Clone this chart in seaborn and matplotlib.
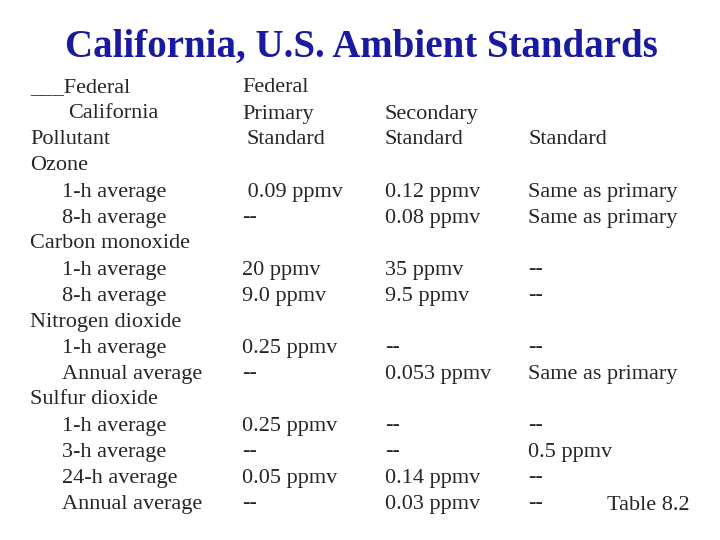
import matplotlib
matplotlib.use("Agg")
import matplotlib.pyplot as plt
import seaborn as sns

sns.set_style("white")
plt.rcParams['font.family'] = 'serif'
plt.rcParams['font.serif'] = ['Liberation Serif', 'Times New Roman', 'DejaVu Serif']

title = "California, U.S. Ambient Standards"
pollutants = ["Ozone", "Carbon monoxide", "Nitrogen dioxide", "Sulfur dioxide"]
averages = [["1-h average", "8-h average"],
            ["1-h average", "8-h average"],
            ["1-h average", "Annual average"],
            ["1-h average", "3-h average", "24-h average", "Annual average"]]
federal_primary = [[" 0.09 ppmv", "--"],
                   ["20 ppmv", "9.0 ppmv"],
                   ["0.25 ppmv", "--"],
                   ["0.25 ppmv", "--", "0.05 ppmv", "--"]]
federal_secondary = [["0.12 ppmv", "0.08 ppmv"],
                     ["35 ppmv", "9.5 ppmv"],
                     ["--", "0.053 ppmv"],
                     ["--", "--", "0.14 ppmv", "0.03 ppmv"]]
california = [["Same as primary", "Same as primary"],
              ["--", "--"],
              ["--", "Same as primary"],
              ["--", "0.5 ppmv", "--", "--"]]

fig = plt.figure(figsize=(7.2, 5.4), dpi=100)
W, H = 720, 540
fs = 16

def put(x, y, s, **kw):
    fig.text(x / W, 1 - y / H, s, fontsize=kw.pop('size', fs), va='center', ha='left', **kw)

fig.text(361 / W, 1 - 47 / H, title, fontsize=28, fontweight='bold', color='#1a1aa0',
         ha='center', va='center')

# header
put(30, 88, "___Federal")
put(68, 114, "California")
put(30, 140, "Pollutant")
put(242, 88, "Federal")
put(242, 114, "Primary")
put(247, 140, "Standard")
put(385, 114, "Secondary")
put(385, 140, "Standard")
put(528, 140, "Standard")

y = 166
step = 26
for p, avs, c1, c2, c3 in zip(pollutants, averages, federal_primary, federal_secondary, california):
    put(30, y, p)
    y += step
    for a, v1, v2, v3 in zip(avs, c1, c2, c3):
        put(62, y, a)
        put(242, y, v1)
        put(385, y, v2)
        put(528, y, v3)
        y += step

put(607, 506, "Table 8.2")

fig.savefig("out.png", dpi=100)
